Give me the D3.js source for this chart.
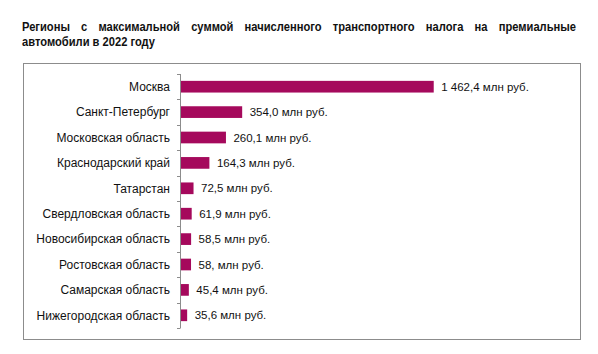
<!DOCTYPE html>
<html><head><meta charset="utf-8">
<script src="https://cdn.jsdelivr.net/npm/d3@7"></script>
<style>
html,body{margin:0;padding:0;background:#fff;}
svg{display:block;}
text{font-family:"Liberation Sans",Arial,sans-serif;}
</style></head>
<body>
<svg id="c" width="598" height="354"></svg>
<script>
const titleLines = ["Регионы с максимальной суммой начисленного транспортного налога на премиальные", "автомобили в 2022 году"];
const regions = ["Москва","Санкт-Петербург","Московская область","Краснодарский край","Татарстан","Свердловская область","Новосибирская область","Ростовская область","Самарская область","Нижегородская область"];
const values = [1462.4, 354.0, 260.1, 164.3, 72.5, 61.9, 58.5, 58.0, 45.4, 35.6];
const valueLabels = ["1 462,4 млн руб.","354,0 млн руб.","260,1 млн руб.","164,3 млн руб.","72,5 млн руб.","61,9 млн руб.","58,5 млн руб.","58, млн руб.","45,4 млн руб.","35,6 млн руб."];

const svg = d3.select("#c");
const barColor = "#A5095C";
const sx = 0.93;

// Title (first line justified), slightly condensed
const t1 = svg.append("text").attr("transform",`translate(22,31) scale(${sx},1)`)
  .attr("font-size",12).attr("font-weight","bold").attr("fill","#111").text(titleLines[0]);
const w = t1.node().getComputedTextLength();
const nGaps = titleLines[0].split(" ").length - 1;
t1.attr("word-spacing", ((576 - 22)/sx - w) / nGaps);
svg.append("text").attr("transform",`translate(22,46) scale(${sx},1)`)
  .attr("font-size",12).attr("font-weight","bold").attr("fill","#111").text(titleLines[1]);

// Frame
svg.append("rect").attr("x",23.5).attr("y",63.5).attr("width",557).attr("height",276)
  .attr("fill","none").attr("stroke","#8c8c8c").attr("stroke-width",1);

const x = d3.scaleLinear().domain([0,1600]).range([180.5, 457]);
const y = d3.scaleBand().domain(regions).range([74, 328]).paddingInner(0.54).paddingOuter(0.27);

// axis line and ticks at band boundaries
const g = svg.append("g");
g.append("line").attr("x1",180.5).attr("x2",180.5).attr("y1",74).attr("y2",328).attr("stroke","#8c8c8c");
const bounds = d3.range(regions.length+1).map(i => 74 + i*(254/regions.length));
g.selectAll(".tk").data(bounds).join("line")
  .attr("x1",177).attr("x2",180.5)
  .attr("y1",d=>Math.round(d)+0.5).attr("y2",d=>Math.round(d)+0.5)
  .attr("stroke","#8c8c8c");

// bars
svg.selectAll(".bar").data(values).join("rect")
  .attr("x", x(0)+0.5)
  .attr("y",(d,i)=>y(regions[i]))
  .attr("width",d=>x(d)-x(0))
  .attr("height",y.bandwidth())
  .attr("fill",barColor);

// category labels
svg.selectAll(".cat").data(regions).join("text")
  .attr("x",170).attr("y",d=>y(d)+y.bandwidth()/2)
  .attr("dy","0.36em").attr("text-anchor","end")
  .attr("font-size",12).attr("fill","#111").text(d=>d);

// value labels
svg.selectAll(".val").data(values).join("text")
  .attr("x",d=>x(d)+8).attr("y",(d,i)=>y(regions[i])+y.bandwidth()/2)
  .attr("dy","0.36em")
  .attr("font-size",11.5).attr("fill","#111").text((d,i)=>valueLabels[i]);
</script>
</body></html>
